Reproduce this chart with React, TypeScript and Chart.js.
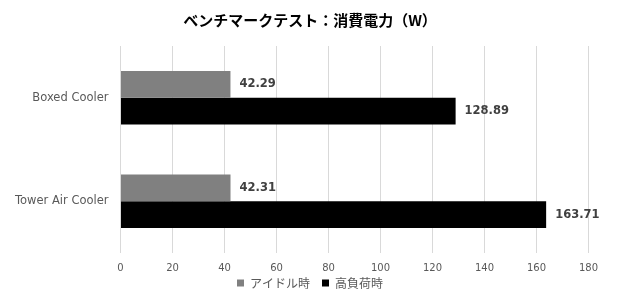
import React, { useEffect, useRef } from "react";
import { Chart, registerables } from "chart.js";

Chart.register(...registerables);

const categories = ["Boxed Cooler", "Tower Air Cooler"];
const idleValues = [42.29, 42.31];
const loadValues = [128.89, 163.71];
const seriesNames = ["アイドル時", "高負荷時"];
const titleText = "ベンチマークテスト：消費電力（W）";
const xMin = 0;
const xMax = 180;
const xStep = 20;

const valueLabels = {
  id: "valueLabels",
  afterDatasetsDraw(chart: any) {
    const ctx = chart.ctx;
    ctx.save();
    ctx.font = "bold 11.5px 'DejaVu Sans'";
    ctx.fillStyle = "#404040";
    ctx.textAlign = "left";
    ctx.textBaseline = "middle";
    chart.data.datasets.forEach((ds: any, i: number) => {
      const meta = chart.getDatasetMeta(i);
      meta.data.forEach((el: any, j: number) => {
        ctx.fillText(ds.data[j].toFixed(2), el.x + 9, el.y);
      });
    });
    ctx.restore();
  },
};

export default function App() {
  const ref = useRef<HTMLCanvasElement>(null);
  useEffect(() => {
    const chart = new Chart(ref.current!, {
      type: "bar",
      data: {
        labels: categories,
        datasets: [
          {
            label: seriesNames[0],
            data: idleValues,
            backgroundColor: "#808080",
            barPercentage: 1,
            categoryPercentage: 0.515,
            yAxisID: "y",
          },
          {
            label: seriesNames[1],
            data: loadValues,
            backgroundColor: "#000000",
            barPercentage: 1,
            categoryPercentage: 0.515,
            yAxisID: "y",
          },
        ],
      },
      options: {
        indexAxis: "y",
        animation: false,
        responsive: false,
        maintainAspectRatio: false,
        layout: { padding: { left: 0, right: 0, top: 7, bottom: 1 } },
        plugins: {
          title: {
            display: true,
            text: titleText,
            color: "#000000",
            font: { family: "'Noto Sans CJK JP'", size: 15, weight: "bold" },
            padding: { top: 4, bottom: 17 },
          },
          legend: {
            position: "bottom",
            labels: {
              boxWidth: 7,
              boxHeight: 7,
              padding: 12,
              color: "#595959",
              font: { family: "'Noto Sans CJK JP'", size: 12 },
            },
          },
          tooltip: { enabled: false },
        },
        scales: {
          x: {
            min: xMin,
            max: xMax,
            ticks: {
              stepSize: xStep,
              color: "#595959",
              font: { family: "'DejaVu Sans'", size: 10 },
              padding: 9,
            },
            grid: { color: "#d9d9d9", drawTicks: false },
            border: { display: false },
            afterFit: (s: any) => {
              s.height = 12;
              s._computeLabelArea = () => undefined;
            },
          },
          y: {
            ticks: {
              color: "#595959",
              font: { family: "'DejaVu Sans'", size: 11.5 },
              padding: 12,
            },
            grid: { display: false, drawTicks: false },
            border: { display: false },
            afterFit: (s: any) => {
              s.width = 120.5;
            },
          },
          yRight: {
            type: "category",
            labels: categories,
            position: "right",
            ticks: { display: false },
            grid: { display: false, drawTicks: false },
            border: { display: false },
            afterFit: (s: any) => {
              s.width = 31.5;
            },
          },
        },
      },
      plugins: [valueLabels],
    });
    return () => chart.destroy();
  }, []);
  return (
    <div style={{ position: "absolute", left: 0, top: 0, width: 620, height: 300, background: "#fff" }}>
      <canvas ref={ref} width={620} height={300} />
    </div>
  );
}
